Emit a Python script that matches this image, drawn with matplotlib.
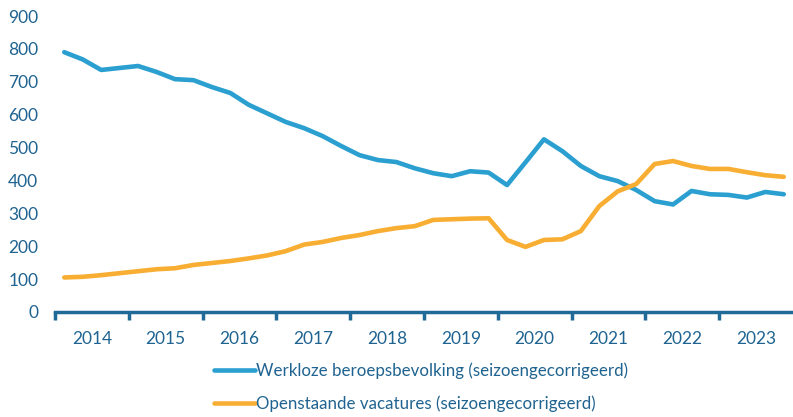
import matplotlib.pyplot as plt
from matplotlib.ticker import FixedLocator, NullFormatter

plt.rcParams['font.family'] = ['Lato', 'DejaVu Sans']

# Quarterly data 2014 Q1 - 2023 Q4 (x 1000)
years = ['2014', '2015', '2016', '2017', '2018', '2019', '2020', '2021', '2022', '2023']
werkloos = [790, 768, 736, 742, 748, 730, 708, 705, 684, 666,
            630, 604, 578, 559, 535, 505, 477, 462, 456, 437,
            422, 413, 428, 424, 386, 455, 525, 489, 444, 413,
            398, 371, 337, 327, 368, 358, 356, 348, 365, 358]
vacatures = [105, 107, 112, 118, 124, 130, 133, 143, 149, 155,
             163, 172, 185, 205, 213, 225, 234, 246, 255, 261,
             280, 282, 284, 285, 219, 198, 219, 221, 246, 322,
             367, 389, 450, 459, 444, 435, 435, 425, 416, 411]

blue = '#2a9fd0'
orange = '#f8ae33'
textcol = '#1f6390'
axcol = '#1f6a96'

fig = plt.figure(figsize=(7.93, 4.17), dpi=100)
ax = fig.add_axes([0.0694, 0.2518, 0.9306, 0.7098])

x = list(range(len(werkloos)))
ax.plot(x, werkloos, color=blue, lw=3.3, solid_capstyle='round',
        label='Werkloze beroepsbevolking (seizoengecorrigeerd)')
ax.plot(x, vacatures, color=orange, lw=3.3, solid_capstyle='round',
        label='Openstaande vacatures (seizoengecorrigeerd)')

ax.set_xlim(-0.5, len(werkloos) - 0.5)
ax.set_ylim(0, 900)
ax.set_yticks(range(0, 901, 100))
ax.tick_params(axis='y', length=0, labelsize=12.5, labelcolor=textcol, pad=12)

# year boundaries as ticks, labels centred in each year
ax.xaxis.set_major_locator(FixedLocator([i * 4 - 0.5 for i in range(len(years))]))
ax.xaxis.set_major_formatter(NullFormatter())
ax.xaxis.set_minor_locator(FixedLocator([i * 4 + 1.5 for i in range(len(years))]))
ax.set_xticklabels(years, minor=True)
ax.tick_params(axis='x', which='major', length=6, width=2.5, color=axcol, direction='out')
ax.tick_params(axis='x', which='minor', length=0, labelsize=12.5, labelcolor=textcol, pad=14)

for s in ['top', 'right', 'left']:
    ax.spines[s].set_visible(False)
ax.spines['bottom'].set_color(axcol)
ax.spines['bottom'].set_linewidth(2.5)

fig.legend(loc='upper left', bbox_to_anchor=(0.27, 0.13), frameon=False,
           fontsize=12.2, handlelength=2.4, handletextpad=0.1, labelspacing=0.95,
           labelcolor=textcol, borderpad=0, borderaxespad=0)

fig.savefig('out.png', dpi=100)
